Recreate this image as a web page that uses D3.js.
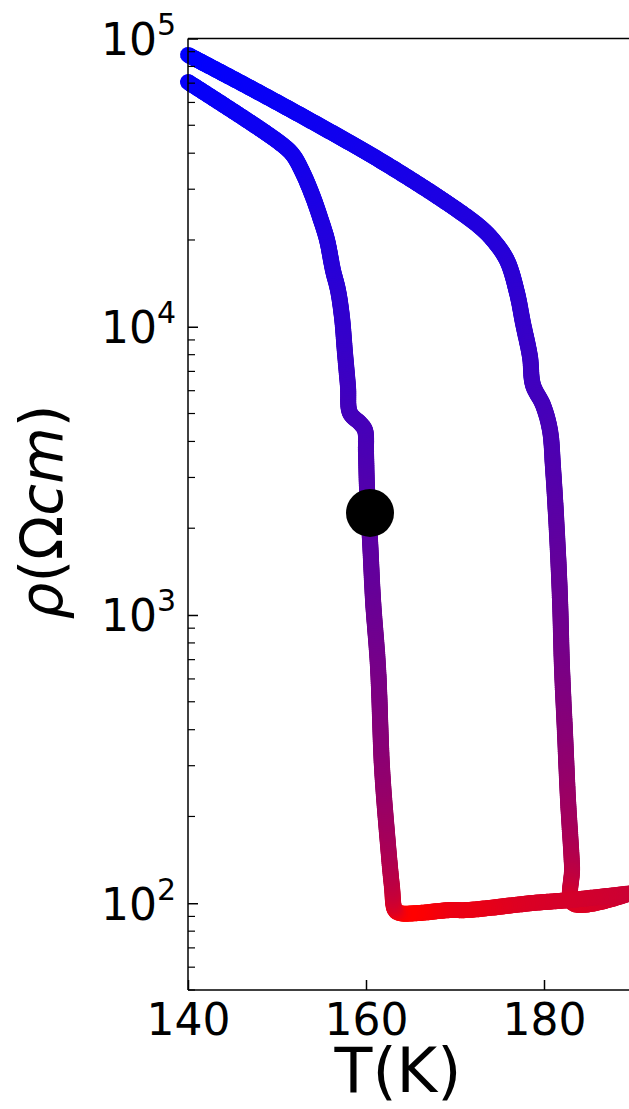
<!DOCTYPE html>
<html>
<head>
<meta charset="utf-8">
<script src="https://cdn.jsdelivr.net/npm/d3@7"></script>
<style>
  html, body { margin: 0; padding: 0; background: #fff; }
  svg { display: block; }
</style>
</head>
<body>
<svg id="chart" width="629" height="1109"></svg>
<script>
// ---- data ----
// cooling branch: from high T down to 140 K (left loop branch)
const coolT   = [189.55, 182.92, 178.76, 171.35, 169.44, 165.73, 163.82, 163.26, 162.92, 162.36, 161.80, 161.35, 160.79, 160.45, 160.11, 160.00, 159.89, 159.33, 158.20, 157.98, 157.64, 157.30, 156.85, 156.29, 155.62, 154.83, 154.04, 152.92, 151.80, 150.34, 140.00];
const coolRho = [108, 102.6, 100.2, 94.7, 94.7, 92.4, 92.4, 94.7, 113.7, 175, 296, 659, 1127, 1820, 2780, 3650, 4380, 4630, 5020, 6180, 8110, 10800, 13400, 15700, 20000, 24000, 28200, 34100, 39400, 43400, 70600];
// heating branch: from 140 K up to high T (right loop branch)
const heatT   = [140.00, 146.97, 154.04, 161.57, 169.10, 172.81, 174.27, 175.84, 176.97, 177.64, 178.43, 178.76, 179.89, 180.67, 181.01, 181.46, 181.80, 182.02, 182.36, 182.70, 183.15, 183.26, 189.55];
const heatRho = [87700, 67500, 51300, 37800, 26900, 22200, 20000, 17000, 13100, 10300, 7850, 6280, 5350, 4380, 3260, 1920, 1127, 659, 389, 228, 134, 100, 108];
// marker
const markT = [160.45];
const markRho = [2260];
// ticks
const xTicks = [140, 160, 180];
const yTicks = [100, 1000, 10000, 100000];
const yTickExp = ["2", "3", "4", "5"];

// ---- layout ----
const svg = d3.select("#chart");
const axLeft = 188, axTop = 38.5, axBottom = 990;
const x = d3.scaleLinear().domain([140, 200]).range([axLeft, axLeft + 60 * 8.9]);
const y = d3.scaleLog().domain([50, 1e5]).range([axBottom, axTop]);

// colour: red at low resistivity, blue at high
const logMin = 0.303, logMax = 4.95;
function colorOf(rho) {
  let t = (Math.log10(Math.max(rho - 90, 1.01)) - logMin) / (logMax - logMin);
  t = Math.max(0, Math.min(1, t));
  return d3.interpolateRgb("#ff0000", "#0000ff")(t);
}

const plot = svg.append("g");
const lineGen = d3.line().x(d => x(d[0])).y(d => y(d[1])).curve(d3.curveCatmullRom.alpha(0.5));

function drawGradientLine(Ts, Rs) {
  const data = Ts.map((t, i) => [t, Rs[i]]);
  const tmp = plot.append("path").attr("d", lineGen(data)).attr("fill", "none").attr("stroke", "none");
  const node = tmp.node();
  const L = node.getTotalLength();
  const step = 2;
  const pts = [];
  for (let s = 0; s <= L; s += step) pts.push(node.getPointAtLength(s));
  pts.push(node.getPointAtLength(L));
  tmp.remove();
  const segs = [];
  for (let i = 0; i < pts.length - 1; i++) {
    const a = pts[i], b = pts[i + 1];
    segs.push({x1: a.x, y1: a.y, x2: b.x, y2: b.y, c: colorOf(y.invert((a.y + b.y) / 2))});
  }
  plot.append("g").selectAll("line").data(segs).join("line")
    .attr("x1", d => d.x1).attr("y1", d => d.y1)
    .attr("x2", d => d.x2).attr("y2", d => d.y2)
    .attr("stroke", d => d.c)
    .attr("stroke-width", 16)
    .attr("stroke-linecap", "round");
}

drawGradientLine(heatT, heatRho);
drawGradientLine(coolT, coolRho);

// marker
plot.selectAll("circle.mark").data(markT).join("circle")
  .attr("class", "mark")
  .attr("cx", (d) => x(d)).attr("cy", (d, i) => y(markRho[i]))
  .attr("r", 24).attr("fill", "#000");

// ---- axes (inward ticks) ----
const font = "DejaVu Sans, sans-serif";
const ax = svg.append("g");
// spines
ax.append("line").attr("x1", axLeft).attr("x2", axLeft).attr("y1", axTop).attr("y2", axBottom)
  .attr("stroke", "#000").attr("stroke-width", 1.5);
ax.append("line").attr("x1", axLeft).attr("x2", 629).attr("y1", axBottom).attr("y2", axBottom)
  .attr("stroke", "#000").attr("stroke-width", 1.5);
ax.append("line").attr("x1", axLeft).attr("x2", 629).attr("y1", axTop).attr("y2", axTop)
  .attr("stroke", "#000").attr("stroke-width", 1.5);

// x ticks
const xAxis = d3.axisBottom(x).tickValues(xTicks).tickSizeInner(-10).tickSizeOuter(0).tickPadding(22).tickFormat(d3.format("d"));
const gx = ax.append("g").attr("transform", `translate(0,${axBottom})`).call(xAxis);
gx.select(".domain").remove();
gx.selectAll(".tick line").attr("stroke", "#000").attr("stroke-width", 1.5);
gx.selectAll(".tick text").attr("font-family", font).attr("font-size", 44).attr("fill", "#000")
  .attr("dy", null).attr("y", 45);

// y major ticks
const yAxis = d3.axisLeft(y).tickValues(yTicks).tickSizeInner(-10).tickSizeOuter(0).tickFormat("");
const gy = ax.append("g").attr("transform", `translate(${axLeft},0)`).call(yAxis);
gy.select(".domain").remove();
gy.selectAll(".tick line").attr("stroke", "#000").attr("stroke-width", 1.5);

// y minor ticks
const minor = [];
for (let e = 1; e <= 4; e++) for (let m = 2; m <= 9; m++) { const v = m * Math.pow(10, e); if (v >= 50 && v <= 1e5) minor.push(v); }
ax.append("g").selectAll("line").data(minor).join("line")
  .attr("x1", axLeft).attr("x2", axLeft + 7)
  .attr("y1", d => y(d)).attr("y2", d => y(d))
  .attr("stroke", "#000").attr("stroke-width", 1.2);

// y tick labels 10^n
const yl = ax.append("g").selectAll("text").data(yTicks).join("text")
  .attr("font-family", font).attr("fill", "#000")
  .attr("text-anchor", "end")
  .attr("x", axLeft - 12)
  .attr("y", d => y(d) + 16.5);
yl.append("tspan").attr("font-size", 44).text("10");
yl.append("tspan").attr("font-size", 30).attr("dy", -20).text((d, i) => yTickExp[i]);

// axis titles
svg.append("text").attr("x", 398).attr("y", 1092)
  .attr("text-anchor", "middle").attr("font-family", font).attr("font-size", 62).attr("fill", "#000")
  .text("T(K)");

const yt = svg.append("text").attr("transform", "translate(62,512) rotate(-90)")
  .attr("text-anchor", "middle").attr("font-family", font).attr("font-size", 58).attr("fill", "#000");
yt.append("tspan").attr("font-style", "italic").text("ρ");
yt.append("tspan").text("(Ω");
yt.append("tspan").attr("font-style", "italic").text("cm");
yt.append("tspan").text(")");
</script>
</body>
</html>
